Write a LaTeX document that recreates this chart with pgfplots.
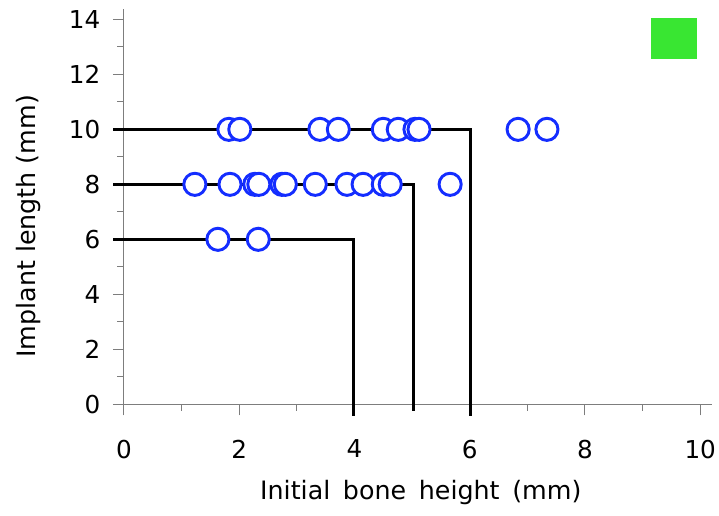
\documentclass[border=0pt]{standalone}
\usepackage{fontspec}
\setmainfont{DejaVu Sans}
\usepackage{pgfplots}
\pgfplotsset{compat=1.18}

\definecolor{axgray}{RGB}{125,125,125}
\definecolor{ptblue}{RGB}{20,45,255}
\definecolor{boxgreen}{RGB}{57,230,50}

\begin{document}
\begin{tikzpicture}
\path[use as bounding box] (-93pt,-83.8pt) rectangle (446.25pt,303.2pt);
\begin{axis}[
  at={(0,0)}, anchor=south west,
  scale only axis,
  width=440.8pt, height=296.5pt,
  xmin=0, xmax=10.2, ymin=0, ymax=14.38,
  axis lines*=left,
  axis line style={axgray, line width=0.75pt},
  xtick={0,2,...,10}, ytick={0,2,...,14},
  minor x tick num=1, minor y tick num=1,
  tick align=outside,
  major tick length=8.25pt, minor tick length=5pt,
  every tick/.style={axgray, line width=0.75pt},
  /pgf/number format/assume math mode=true,
  xticklabel style={font=\fontsize{18.5}{20}\selectfont, yshift=-15pt},
  yticklabel style={font=\fontsize{18.5}{20}\selectfont, xshift=-6pt},
  label style={font=\fontsize{19}{22}\selectfont},
  xlabel={Initial\hspace{0.5em}bone\hspace{0.5em}height\hspace{0.5em}(mm)},
  ylabel={Implant length (mm)},
  xlabel style={at={(axis description cs:0.505,-0.222)}, anchor=center},
  ylabel style={at={(axis description cs:-0.163,0.45)}, anchor=center},
  clip=false,
]
% threshold lines
\addplot[black, line width=2.2pt, mark=none] coordinates {(-0.19,10) (6.02,10) (6.02,-0.43)};
\addplot[black, line width=2.2pt, mark=none] coordinates {(-0.19,8) (5.02,8) (5.02,-0.25)};
\addplot[black, line width=2.2pt, mark=none] coordinates {(-0.19,6) (3.99,6) (3.99,-0.43)};
% legend box
\addplot[fill=boxgreen, draw=none, mark=none] coordinates {(9.15,12.55) (9.95,12.55) (9.95,14.04) (9.15,14.04)} -- cycle;
% data points
\addplot[only marks, mark=*, mark size=8.3pt,
  mark options={draw=ptblue, fill=white, line width=2.2pt}] coordinates {
  (1.82,10) (2.01,10) (3.40,10) (3.72,10) (4.50,10) (4.76,10) (5.05,10) (5.12,10) (6.84,10) (7.34,10)
  (1.23,8) (1.84,8) (2.27,8) (2.34,8) (2.74,8) (2.80,8) (3.32,8) (3.87,8) (4.15,8) (4.50,8) (4.62,8) (5.66,8)
  (1.63,6) (2.33,6)
};
\end{axis}
\end{tikzpicture}
\end{document}
